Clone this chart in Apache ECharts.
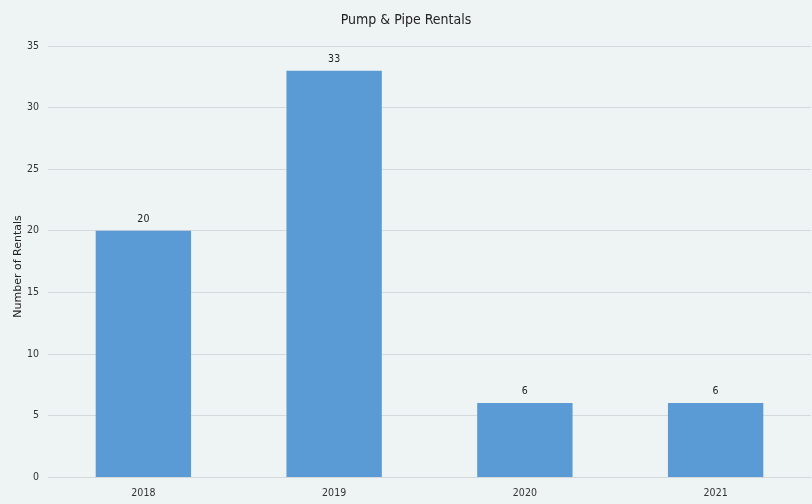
<!DOCTYPE html>
<html><head><meta charset="utf-8">
<script src="https://cdn.jsdelivr.net/npm/echarts@6/dist/echarts.min.js"></script>
<style>html,body{margin:0;padding:0;background:#EEF3F3;}#c{width:812px;height:504px;}</style>
</head><body><div id="c"></div>
<script>
const categories = ['2018', '2019', '2020', '2021'];
const rentals = [20, 33, 6, 6];
const yTicks = [0, 5, 10, 15, 20, 25, 30, 35];

const narrow = '"Liberation Sans Narrow", "DejaVu Sans Condensed", sans-serif';
const chart = echarts.init(document.getElementById('c'), null, {renderer: 'canvas'});
chart.setOption({
  backgroundColor: '#EEF3F3',
  animation: false,
  title: {
    text: 'Pump & Pipe Rentals', left: 'center', top: 8,
    textStyle: {fontFamily: narrow, fontSize: 14, fontWeight: 'normal', color: '#222'}
  },
  grid: {left: 48, right: 1, top: 46, bottom: 27, containLabel: false, outerBoundsMode: 'none'},
  xAxis: {
    type: 'category', data: categories,
    axisLine: {lineStyle: {color: '#d6d9dc'}},
    axisTick: {show: false},
    axisLabel: {fontFamily: narrow, fontSize: 10.5, color: '#333', margin: 11}
  },
  yAxis: {
    type: 'value', min: yTicks[0], max: yTicks[yTicks.length - 1], interval: 5,
    name: 'Number of Rentals', nameLocation: 'middle', nameGap: 24, nameMoveOverlap: false,
    nameTextStyle: {fontFamily: '"DejaVu Sans", sans-serif', fontSize: 11, color: '#222', padding: [0, 10, 0, 0]},
    axisLine: {show: false}, axisTick: {show: false},
    splitLine: {lineStyle: {color: '#d6d9dc'}},
    axisLabel: {fontFamily: narrow, fontSize: 10.5, color: '#333', margin: 9}
  },
  series: [{
    type: 'bar', data: rentals, barWidth: '50%',
    itemStyle: {color: '#5B9BD5'},
    label: {show: true, position: 'top', distance: 6, fontFamily: narrow, fontSize: 10.5, color: '#222'}
  }]
});
</script></body></html>
